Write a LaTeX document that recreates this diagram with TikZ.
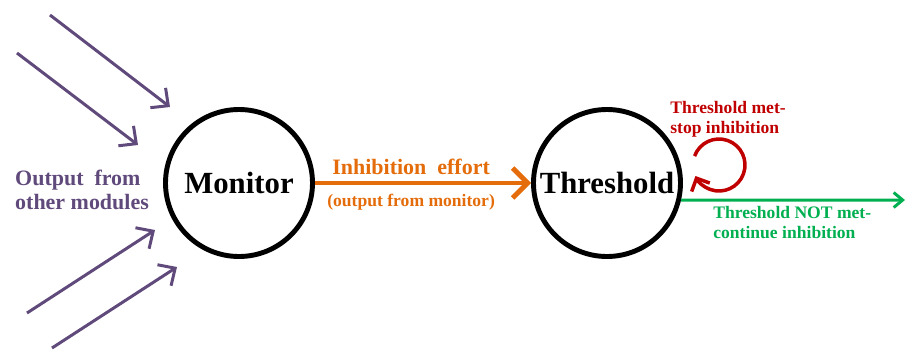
\documentclass[tikz,border=0pt]{standalone}
\usepackage{fontspec}
\setmainfont{Liberation Serif}
\usetikzlibrary{arrows.meta}
\definecolor{inpurple}{RGB}{96,74,123}
\definecolor{efforange}{RGB}{228,108,10}
\definecolor{metred}{RGB}{192,0,0}
\definecolor{notgreen}{RGB}{0,176,80}

\begin{document}
\begin{tikzpicture}[font=\bfseries,
        unit/.style={circle,draw,line width=2.8pt,minimum size=2.94cm,inner sep=0pt,font=\bfseries\fontsize{17.5}{20}\selectfont},
        inarrow/.style={draw=inpurple,line width=1.7pt,-{Straight Barb[length=2.6mm,width=5mm,line width=1.7pt]}}]
        \useasboundingbox (0,0) rectangle (18.12,7);
        \node[unit] (mon) at (4.78,3.34) {Monitor};
        \node[unit] (thr) at (12.14,3.34) {Threshold};
        \coordinate (s1) at (1.0,6.7);   \coordinate (e1) at (3.4,4.86);
        \coordinate (s2) at (0.34,5.94); \coordinate (e2) at (2.76,4.1);
        \coordinate (s3) at (0.54,0.74); \coordinate (e3) at (3.1,2.4);
        \coordinate (s4) at (1.04,0.04); \coordinate (e4) at (3.54,1.66);
        \foreach \i in {1,...,4}
            \draw[inarrow] (s\i)--(e\i);
        \node[anchor=west,align=left,text=inpurple,font=\bfseries\fontsize{12.5}{13.5}\selectfont] (out) at (0.18,3.2) {Output\ \ from\\other modules};
        \draw[draw=efforange,line width=2.8pt,-{Straight Barb[length=3mm,width=6mm,line width=2.8pt]}] (mon)--(thr)
            node[pos=0.445,above=0pt,text=efforange,font=\bfseries\fontsize{12.5}{14}\selectfont] (eff) {Inhibition\ \ effort}
            node[pos=0.445,below=1.5pt,text=efforange,font=\bfseries\fontsize{10}{12}\selectfont] (effsub) {(output from monitor)};
        \draw[draw=metred,line width=2pt,-{Straight Barb[length=2mm,width=4mm,line width=2pt]}] (14.38,3.7) ++(160:0.52) arc[start angle=160,end angle=-155,radius=0.52];
        \node[anchor=north west,align=left,text=metred,font=\bfseries\fontsize{10}{11.5}\selectfont,inner sep=0pt] (met) at (13.4,4.98) {Threshold met-\\stop inhibition};
        \coordinate (right) at (18.1,3.0);
        \draw[draw=notgreen,line width=1.7pt,-{Straight Barb[length=1.8mm,width=3mm,line width=1.7pt]}] (thr.-13)--(right);
        \node[anchor=north west,align=left,text=notgreen,font=\bfseries\fontsize{10}{11.5}\selectfont,inner sep=0pt] (notmet) at (14.26,2.88) {Threshold NOT met-\\continue inhibition};
    \end{tikzpicture}
\end{document}
